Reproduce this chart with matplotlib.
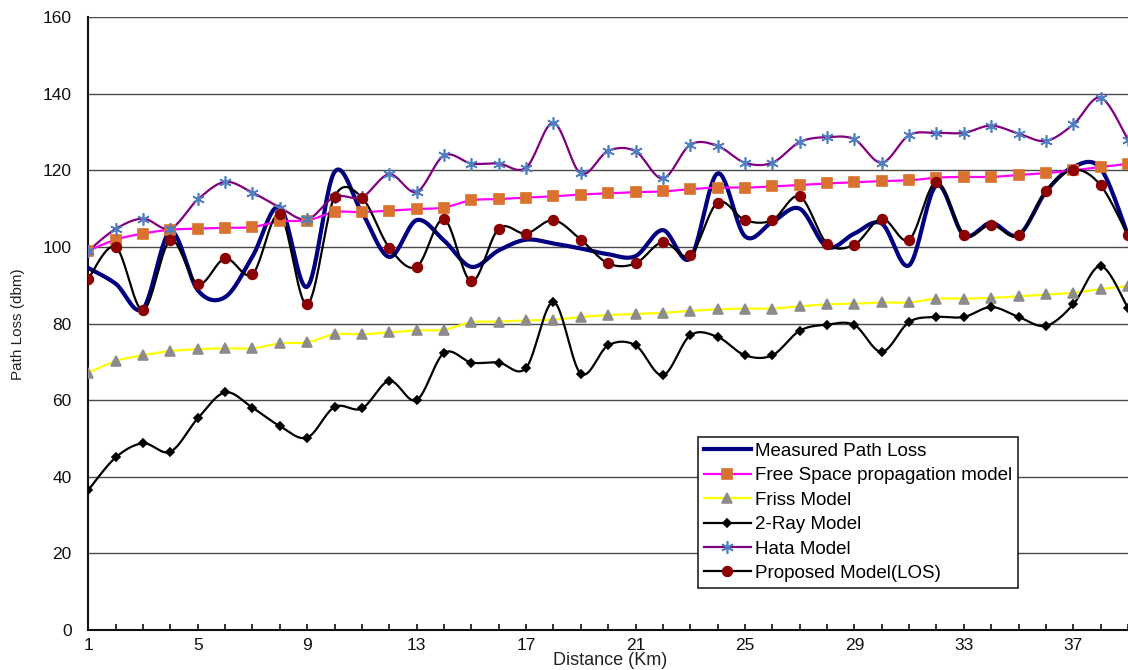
import numpy as np
import matplotlib
matplotlib.use("Agg")
import matplotlib.pyplot as plt
from matplotlib.lines import Line2D

plt.rcParams['font.family'] = ['Liberation Sans', 'DejaVu Sans']

# Distance (km)
distance = np.arange(1, 40)

measured = [94.5, 90.4, 83.9, 104.0, 88.7, 86.9, 97.5, 110.4, 89.6, 119.6,
            109.0, 97.4, 107.0, 101.7, 94.8, 99.1, 101.9, 100.9, 99.6, 98.1,
            97.6, 104.4, 97.0, 119.2, 102.8, 106.5, 110.0, 100.0, 103.5, 106.1,
            95.2, 116.1, 103.1, 106.3, 103.1, 114.4, 120.9, 120.5, 103.0]
free_space = [99.0, 101.9, 103.5, 104.5, 104.8, 105.0, 105.2, 106.7, 106.9, 109.1,
              109.1, 109.5, 109.9, 110.3, 112.2, 112.5, 112.9, 113.2, 113.7, 114.0,
              114.3, 114.5, 115.1, 115.5, 115.5, 115.8, 116.2, 116.6, 116.9, 117.2,
              117.4, 118.1, 118.3, 118.3, 118.8, 119.3, 120.0, 120.9, 121.7]
friss = [67.1, 70.2, 71.7, 72.8, 73.3, 73.5, 73.5, 74.8, 75.1, 77.2,
         77.2, 77.7, 78.2, 78.4, 80.3, 80.5, 80.8, 81.0, 81.7, 82.2,
         82.5, 82.8, 83.3, 83.7, 83.9, 83.9, 84.5, 85.0, 85.2, 85.5,
         85.5, 86.5, 86.5, 86.7, 87.1, 87.6, 88.0, 89.0, 89.8]
two_ray = [36.5, 45.0, 48.7, 46.5, 55.2, 62.0, 58.0, 53.2, 50.2, 58.2,
           57.8, 65.0, 60.0, 72.3, 69.8, 69.8, 68.4, 85.6, 66.9, 74.3,
           74.3, 66.5, 76.9, 76.5, 71.7, 71.7, 78.1, 79.7, 79.6, 72.6,
           80.4, 81.7, 81.7, 84.3, 81.7, 79.4, 85.0, 95.0, 84.0]
hata = [99.0, 104.7, 107.4, 104.8, 112.4, 117.0, 114.2, 110.3, 107.2, 113.1,
        113.0, 119.0, 114.4, 123.9, 121.8, 121.8, 120.7, 132.4, 119.2, 125.1,
        125.0, 117.9, 126.7, 126.4, 122.0, 122.0, 127.4, 128.7, 128.1, 122.0,
        129.2, 129.8, 129.8, 131.7, 129.6, 127.7, 132.0, 139.0, 128.0]
proposed = [91.7, 100.0, 83.5, 101.7, 90.3, 97.0, 92.9, 108.5, 85.0, 113.1,
            112.9, 99.8, 94.8, 107.2, 91.0, 104.8, 103.5, 107.0, 101.9, 95.7,
            95.7, 101.3, 97.8, 111.6, 107.0, 107.0, 113.2, 100.9, 100.6, 107.4,
            101.9, 117.0, 103.2, 105.8, 103.1, 114.6, 120.2, 116.1, 103.0]

labels = ["Measured Path Loss", "Free Space propagation model", "Friss Model",
          "2-Ray Model", "Hata Model", "Proposed Model(LOS)"]


def smooth(x, y, n=24):
    # Catmull-Rom curve through the points (like Excel's smoothed line)
    x = np.asarray(x, float)
    y = np.asarray(y, float)
    xs, ys = [], []
    m = len(x)
    t = np.linspace(0, 1, n, endpoint=False)
    for i in range(m - 1):
        i0 = max(i - 1, 0)
        i3 = min(i + 2, m - 1)
        for arr, out in ((x, xs), (y, ys)):
            p0, p1, p2, p3 = arr[i0], arr[i], arr[i + 1], arr[i3]
            out.extend(0.5 * (2 * p1 + (-p0 + p2) * t
                              + (2 * p0 - 5 * p1 + 4 * p2 - p3) * t ** 2
                              + (-p0 + 3 * p1 - 3 * p2 + p3) * t ** 3))
    xs.append(x[-1])
    ys.append(y[-1])
    return np.array(xs), np.array(ys)


fig = plt.figure(figsize=(11.28, 6.7), dpi=100)
W, H = 1128, 670
ax = fig.add_axes([88.3 / W, 1 - 629.7 / H, (W - 88.3) / W, (629.7 - 17.3) / H])

styles = [
    # series, line colour, line width, marker, face, edge, size
    (measured, '#000080', 3.0, None, None, None, 0),
    (free_space, '#FF00FF', 1.6, 's', '#D9722E', '#D9722E', 6.5),
    (friss, '#FFFF00', 1.6, '^', '#8C8C8C', '#8C8C8C', 7.5),
    (two_ray, '#000000', 1.6, 'D', '#000000', '#000000', 4.5),
    (hata, '#800080', 1.6, (6, 2, 0), '#4F7FC0', '#4F7FC0', 9),
    (proposed, '#000000', 1.6, 'o', '#8B0000', '#8B0000', 7),
]

handles = []
for k, (vals, lc, lw, mk, mfc, mec, ms) in enumerate(styles):
    sx, sy = smooth(distance, vals)
    ax.plot(sx, sy, color=lc, lw=lw, zorder=3 + k)
    if mk is not None:
        ax.plot(distance, vals, linestyle='none', marker=mk, markerfacecolor=mfc,
                markeredgecolor=mec, markersize=ms, markeredgewidth=1.2, zorder=10 + k)
    handles.append(Line2D([], [], color=lc, lw=lw, marker=mk, markerfacecolor=mfc,
                          markeredgecolor=mec, markersize=ms, markeredgewidth=1.2))

ax.set_xlim(1, 1 + (W - 88.3) / 27.53)
ax.set_ylim(0, 160)
ax.set_yticks(np.arange(0, 161, 20))
ax.set_xticks(np.arange(1, 38, 4))
ax.set_xticks(np.arange(1, 40, 1), minor=True)
ax.grid(axis='y', color='#4a4a4a', lw=1.0, zorder=0)
ax.set_axisbelow(True)

for side in ['top', 'right']:
    ax.spines[side].set_visible(False)
for side in ['left', 'bottom']:
    ax.spines[side].set_linewidth(1.5)
    ax.spines[side].set_color('#111111')

ax.tick_params(axis='x', which='both', direction='in', length=4, width=1.2,
               labelsize=12.5, pad=6, colors='#111111')
ax.tick_params(axis='y', length=0, labelsize=12.5, pad=12, colors='#111111')

fig.text(18 / W, 1 - 324 / H, "Path Loss (dbm)", rotation=90, ha='center', va='center',
         fontsize=11, color='#222222')
fig.text(610 / W, 1 / H, "Distance (Km)", ha='center', va='bottom',
         fontsize=13, color='#222222')

leg = ax.legend(handles, labels, loc='upper left',
                bbox_to_anchor=(698 / W, 1 - 437 / H), bbox_transform=fig.transFigure,
                borderaxespad=0, fancybox=False, framealpha=1, edgecolor='#222222',
                fontsize=13.5, handlelength=2.5, handletextpad=0.25, labelspacing=0.39,
                borderpad=0.3)
leg.get_frame().set_linewidth(1.2)
leg.set_zorder(20)

fig.savefig("out.png", dpi=100)
